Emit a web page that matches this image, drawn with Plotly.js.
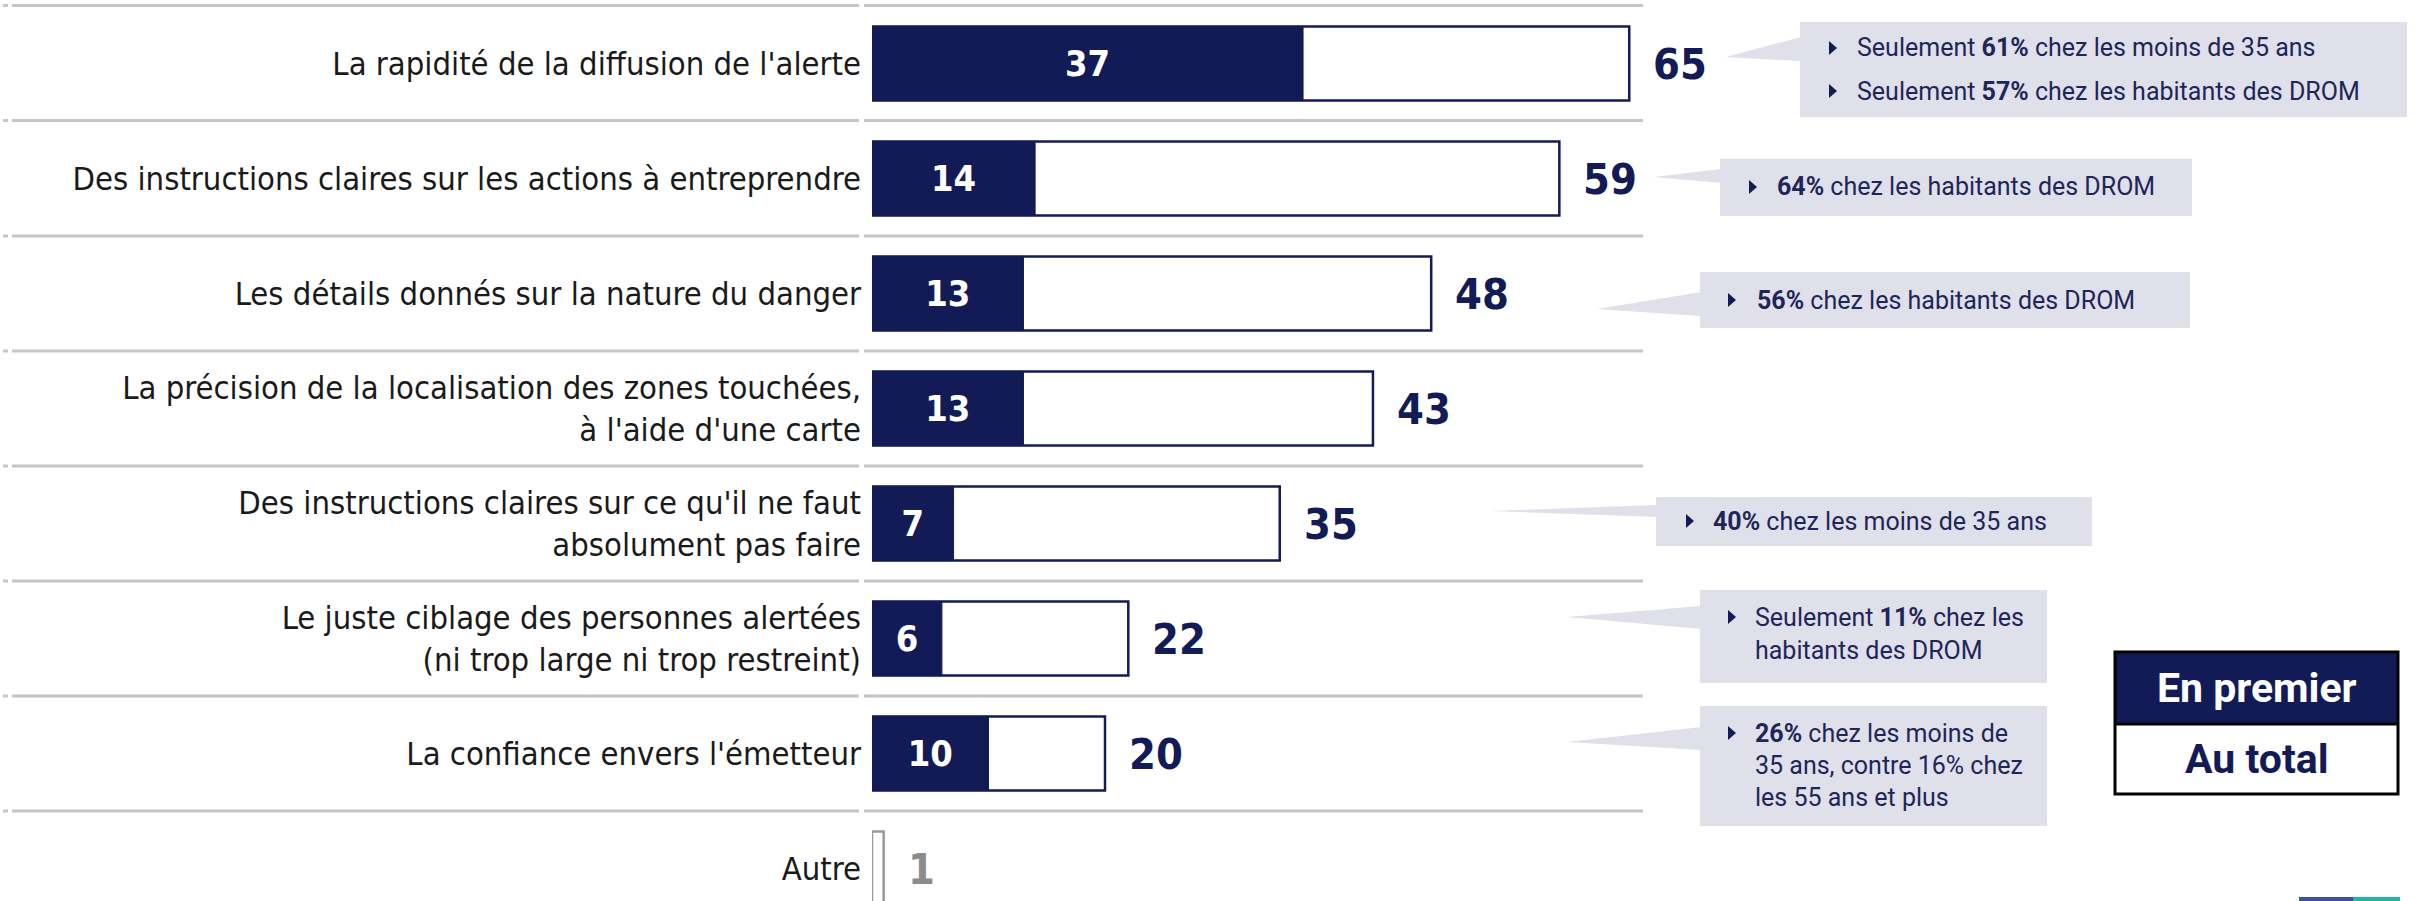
<!DOCTYPE html>
<html>
<head>
<meta charset="utf-8">
<script src="https://cdn.plot.ly/plotly-3.0.1.min.js"></script>
<style>html,body{margin:0;padding:0;background:#fff;}#chart{width:2417px;height:901px;}</style>
</head>
<body>
<div id="chart"></div>
<script>
// ---------- DATA ----------
const categories = [
  "La rapidité de la diffusion de l'alerte",
  "Des instructions claires sur les actions à entreprendre",
  "Les détails donnés sur la nature du danger",
  "La précision de la localisation des zones touchées,<br>à l'aide d'une carte",
  "Des instructions claires sur ce qu'il ne faut<br>absolument pas faire",
  "Le juste ciblage des personnes alertées<br>(ni trop large ni trop restreint)",
  "La confiance envers l'émetteur",
  "Autre"
];
const firstValues = [37, 14, 13, 13, 7, 6, 10, null];   // "En premier"
const totalValues = [65, 59, 48, 43, 35, 22, 20, 1];     // "Au total"
const legendLabels = ["En premier", "Au total"];

const callout1 = ["Seulement <b>61%</b> chez les moins de 35 ans", "Seulement <b>57%</b> chez les habitants des DROM"];
const callout2 = ["<b>64%</b> chez les habitants des DROM"];
const callout3 = ["<b>56%</b> chez les habitants des DROM"];
const callout4 = ["<b>40%</b> chez les moins de 35 ans"];
const callout5 = ["Seulement <b>11%</b> chez les", "habitants des DROM"];
const callout6 = ["<b>26%</b> chez les moins de", "35 ans, contre 16% chez", "les 55 ans et plus"];

// ---------- STYLE / GEOMETRY ----------
const W = 2417, H = 901;
const L = 872;                 // plot left edge (px)
const PXU = 11.65;             // px per unit on x
const NAVY = "#131b57";
const BOXFILL = "#dfe0ea";
const CALLTXT = "#1e2659";
const GREY = "#8c8c8c";
const NARROW = "'Liberation Sans Narrow','Arial Narrow','DejaVu Sans Condensed',Roboto,sans-serif";
const SANS = "Roboto,'Noto Sans',sans-serif";

const px = x => (x - L) / (W - L);
const py = y => 1 - y / H;

const shapes = [];
const annotations = [];

// separators
[5.5, 120.5, 236, 351, 466, 581, 696, 811].forEach(y => {
  [[3, 8], [12, 859], [864, 1643]].forEach(seg => {
    shapes.push({type: "line", xref: "paper", yref: "paper", layer: "below",
      x0: px(seg[0]), x1: px(seg[1]), y0: py(y), y1: py(y),
      line: {color: "#c6c6c6", width: 3}});
  });
});

// callouts: box, pointer, bullets, text lines
const callouts = [
  {lines: callout1, box: [1800, 2407, 22, 117], tip: [1726, 57], base: [37, 61], tx: 1855, bx: 1829, ly: [48, 91], bulletAll: true},
  {lines: callout2, box: [1720, 2192, 159, 216], tip: [1654, 177], base: [169, 183], tx: 1775, bx: 1749, ly: [187]},
  {lines: callout3, box: [1700, 2190, 272, 328], tip: [1597, 309], base: [292, 316], tx: 1755, bx: 1728, ly: [300]},
  {lines: callout4, box: [1656, 2092, 497, 546], tip: [1490, 511], base: [505, 517], tx: 1711, bx: 1686, ly: [521]},
  {lines: callout5, box: [1700, 2047, 590, 683], tip: [1567, 617], base: [606, 629], tx: 1753, bx: 1728, ly: [617, 650]},
  {lines: callout6, box: [1700, 2047, 706, 826], tip: [1567, 742], base: [727, 750], tx: 1753, bx: 1728, ly: [733, 765, 797]}
];
callouts.forEach(c => {
  const [x0, x1, y0, y1] = c.box;
  shapes.push({type: "rect", xref: "paper", yref: "paper", layer: "below",
    x0: px(x0), x1: px(x1), y0: py(y0), y1: py(y1), fillcolor: BOXFILL, line: {width: 0}});
  shapes.push({type: "path", xref: "paper", yref: "paper", layer: "below",
    path: `M${px(c.tip[0])},${py(c.tip[1])} L${px(x0 + 1)},${py(c.base[0])} L${px(x0 + 1)},${py(c.base[1])} Z`,
    fillcolor: BOXFILL, line: {width: 0}});
  c.lines.forEach((t, i) => {
    const y = c.ly[i];
    if (i === 0 || c.bulletAll) {
      shapes.push({type: "path", xref: "paper", yref: "paper",
        path: `M${px(c.bx)},${py(y - 7)} L${px(c.bx + 8)},${py(y)} L${px(c.bx)},${py(y + 7)} Z`,
        fillcolor: NAVY, line: {width: 0}});
    }
    annotations.push({xref: "paper", yref: "paper", x: px(c.tx), y: py(y),
      xanchor: "left", yanchor: "middle", text: t, showarrow: false,
      font: {family: SANS, size: 25, color: CALLTXT}});
  });
});

// legend box
const LG = {x0: 2115, x1: 2398, y0: 652, ym: 724, y1: 794};
shapes.push({type: "rect", xref: "paper", yref: "paper", x0: px(LG.x0), x1: px(LG.x1), y0: py(LG.y0), y1: py(LG.ym),
  fillcolor: NAVY, line: {width: 0}});
shapes.push({type: "rect", xref: "paper", yref: "paper", x0: px(LG.x0), x1: px(LG.x1), y0: py(LG.y0), y1: py(LG.y1),
  fillcolor: "rgba(0,0,0,0)", line: {color: "#000", width: 3}});
shapes.push({type: "line", xref: "paper", yref: "paper", x0: px(LG.x0), x1: px(LG.x1), y0: py(LG.ym), y1: py(LG.ym),
  line: {color: "#000", width: 3}});
annotations.push({xref: "paper", yref: "paper", x: px((LG.x0 + LG.x1) / 2), y: py((LG.y0 + LG.ym) / 2),
  xanchor: "center", yanchor: "middle", text: legendLabels[0], showarrow: false,
  font: {family: SANS, size: 41, color: "#fff", weight: 700}});
annotations.push({xref: "paper", yref: "paper", x: px((LG.x0 + LG.x1) / 2), y: py((LG.ym + LG.y1) / 2),
  xanchor: "center", yanchor: "middle", text: legendLabels[1], showarrow: false,
  font: {family: SANS, size: 41, color: NAVY, weight: 700}});

// bottom decoration
shapes.push({type: "line", xref: "paper", yref: "paper", x0: px(2299), x1: px(2353), y0: py(899), y1: py(899), line: {color: "#3d4fa1", width: 4}});
shapes.push({type: "line", xref: "paper", yref: "paper", x0: px(2353), x1: px(2400), y0: py(899), y1: py(899), line: {color: "#22b5a8", width: 4}});

// total value labels (outside)
totalValues.forEach((v, i) => {
  const isOther = firstValues[i] === null;
  annotations.push({x: v, y: categories[i], xref: "x", yref: "y", xanchor: "left", yanchor: "middle",
    xshift: 22, text: String(v), showarrow: false,
    font: {family: NARROW, size: 43, weight: 700, color: isOther ? GREY : NAVY}});
});

const lineColors = firstValues.map(v => v === null ? "#9a9a9a" : NAVY);

const traces = [
  {type: "bar", orientation: "h", y: categories, x: totalValues, width: 0.645,
   marker: {color: "#ffffff", line: {color: lineColors, width: 2.5}},
   hoverinfo: "skip", textposition: "none"},
  {type: "bar", orientation: "h", y: categories, x: firstValues, width: 0.645,
   marker: {color: NAVY, line: {color: NAVY, width: 1}},
   text: firstValues.map(v => v === null ? "" : String(v)),
   textposition: "inside", insidetextanchor: "middle", constraintext: "none", textangle: 0,
   insidetextfont: {family: NARROW, size: 36, color: "#ffffff", weight: 700},
   hoverinfo: "skip"}
];

const rowPx = 115, firstRowY = 63.5;
const r0 = -firstRowY / rowPx;
const r1 = r0 + H / rowPx;

const layout = {
  width: W, height: H,
  margin: {l: L, r: 0, t: 0, b: 0, pad: 0},
  paper_bgcolor: "#fff", plot_bgcolor: "rgba(0,0,0,0)",
  barmode: "overlay", showlegend: false, hovermode: false,
  xaxis: {range: [0, (W - L) / PXU], visible: false, fixedrange: true},
  yaxis: {type: "category", categoryorder: "array", categoryarray: categories,
    range: [r1, r0], showgrid: false, zeroline: false, showline: false, ticks: "",
    automargin: false, ticklabelstandoff: 10,
    tickfont: {family: NARROW, size: 32.5, color: "#1a1a1a"}, fixedrange: true},
  shapes: shapes, annotations: annotations
};

Plotly.newPlot("chart", traces, layout, {displayModeBar: false, staticPlot: true});
</script>
</body>
</html>
